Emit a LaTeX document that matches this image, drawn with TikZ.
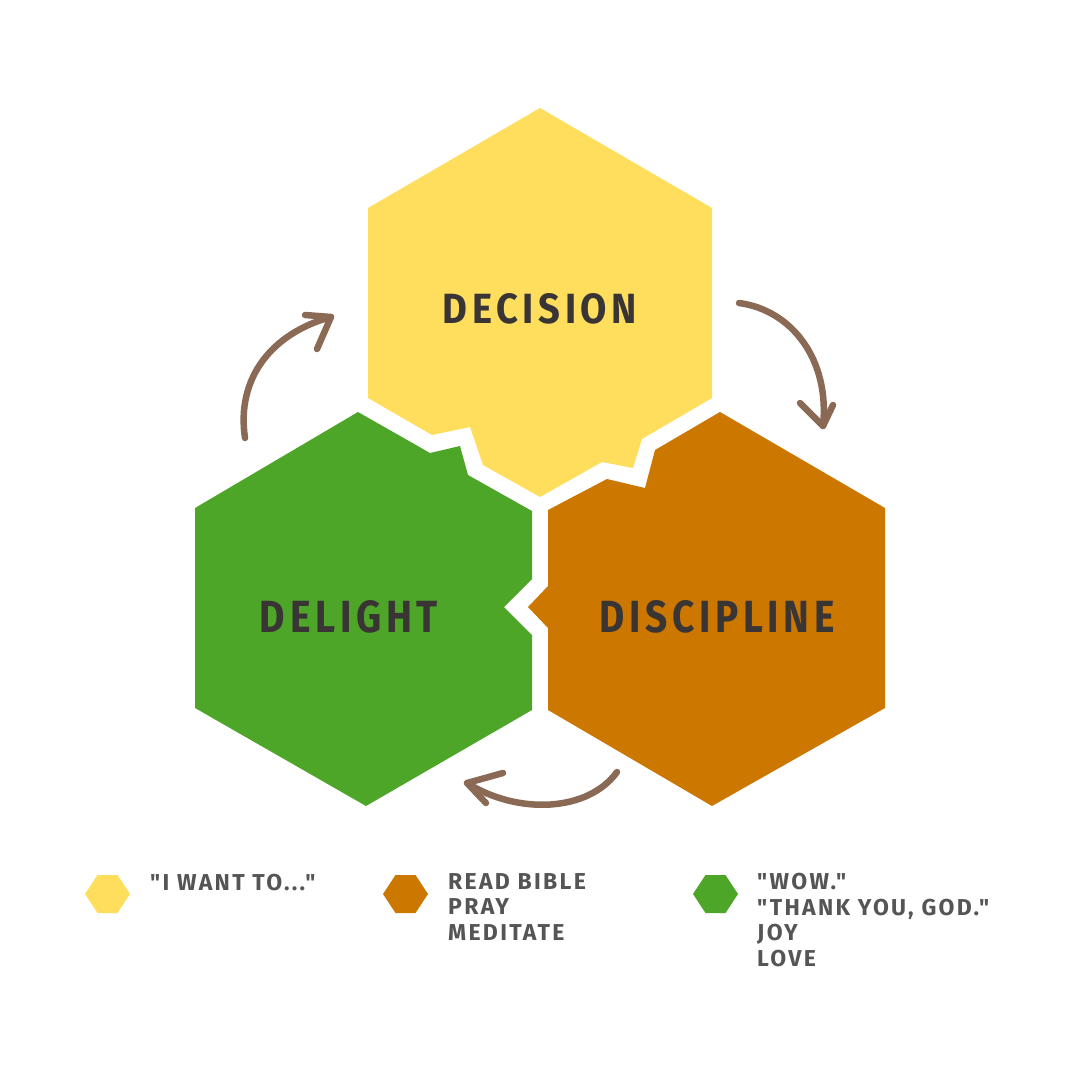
\documentclass[tikz,border=0pt]{standalone}
\usepackage{fontspec}
\usepackage{graphicx}
\newfontfamily\hand[LetterSpace=10]{Fira Sans}
\newfontfamily\handbig[LetterSpace=12]{Fira Sans}
\definecolor{hexyellow}{RGB}{255,222,94}
\definecolor{hexorange}{RGB}{204,119,0}
\definecolor{hexgreen}{RGB}{78,166,40}
\definecolor{arrowbrown}{RGB}{138,106,85}
\definecolor{labeldark}{RGB}{58,53,53}
\definecolor{legendgray}{RGB}{85,85,85}
\tikzset{
  bigtext/.style={inner sep=0pt, text=labeldark},
  legtext/.style={inner sep=0pt, text=legendgray, anchor=north west, align=left,
    font=\hand\bfseries\fontsize{23}{25.5}\selectfont},
  cyclearrow/.style={draw=arrowbrown, line width=6.5pt, line cap=round, line join=round},
}
\begin{document}
\begin{tikzpicture}[x=1pt,y=-1pt]
\useasboundingbox (0,0) rectangle (1080,1080);
\fill[white] (0,0) rectangle (1080,1080);

% hexagons
\fill[hexyellow] (540,108) -- (712,208) -- (712,398) -- (642,439) -- (633,468) -- (602,462)
  -- (540,497) -- (483,465) -- (470,427) -- (432,435) -- (368,398) -- (368,208) -- cycle;
\fill[hexgreen] (358,412) -- (430,453) -- (460,446) -- (468,475) -- (532,511) -- (532,579)
  -- (504,607) -- (532,635) -- (532,710) -- (366,806) -- (195,708) -- (195,508) -- cycle;
\fill[hexorange] (720,412) -- (885,508) -- (885,708) -- (712,806) -- (548,710) -- (548,628)
  -- (528,607) -- (548,586) -- (548,510) -- (607,479) -- (645,488) -- (655,450) -- cycle;

% labels
\node[bigtext] (decision) at (540,309) {\resizebox{194pt}{30pt}{\handbig\bfseries DECISION}};
\node[bigtext] (delight) at (349,617) {\resizebox{178pt}{32pt}{\handbig\bfseries DELIGHT}};
\node[bigtext] (discipline) at (717,617) {\resizebox{235pt}{32pt}{\handbig\bfseries DISCIPLINE}};

% cycle arrows
\coordinate (a1s) at (245,438);
\coordinate (a1t) at (331,317);
\draw[cyclearrow] (a1s) .. controls (236,378) and (272,333) .. (a1t);
\draw[cyclearrow] (305,315) -- (a1t) -- (317,349);

\coordinate (a2s) at (739,303);
\coordinate (a2t) at (823,426);
\draw[cyclearrow] (a2s) .. controls (792,310) and (830,360) .. (a2t);
\draw[cyclearrow] (800,403) -- (a2t) -- (833,405);

\coordinate (a3s) at (617,772);
\coordinate (a3t) at (467,783);
\draw[cyclearrow] (a3s) .. controls (588,812) and (518,815) .. (a3t);
\draw[cyclearrow] (503,773) -- (a3t) -- (486,803);

% legend
\fill[hexyellow] (85,894) -- (97.5,875) -- (117.5,875) -- (130,894) -- (117.5,913) -- (97.5,913) -- cycle;
\fill[hexorange] (383,894) -- (395.5,875) -- (415.5,875) -- (428,894) -- (415.5,913) -- (395.5,913) -- cycle;
\fill[hexgreen] (693,894) -- (705.5,875) -- (725.5,875) -- (738,894) -- (725.5,913) -- (705.5,913) -- cycle;

\node[legtext] (legyellow) at (150,874) {"I WANT TO..."};
\node[legtext] (legorange) at (448,873) {READ BIBLE\\PRAY\\MEDITATE};
\node[legtext] (leggreen) at (757,873) {"WOW."\\"THANK YOU, GOD."\\JOY\\LOVE};
\end{tikzpicture}
\end{document}
